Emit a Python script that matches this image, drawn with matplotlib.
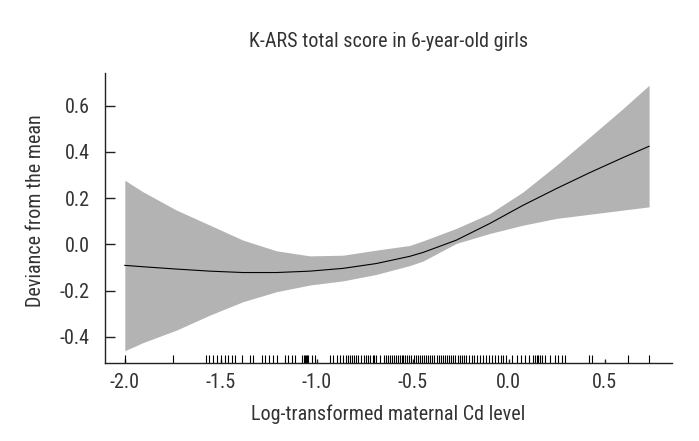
import matplotlib
matplotlib.use("Agg")
import matplotlib.pyplot as plt

plt.rcParams['font.family'] = ['Roboto Condensed', 'Liberation Sans Narrow', 'Roboto', 'DejaVu Sans']

# curva suavizada y banda de confianza
x_grid = [-2.0, -1.905, -1.731, -1.557, -1.384, -1.21, -1.036, -0.863, -0.689,
          -0.516, -0.446, -0.273, -0.099, 0.075, 0.248, 0.422, 0.595, 0.731]
ajuste = [-0.091, -0.097, -0.107, -0.116, -0.122, -0.122, -0.116, -0.104, -0.083,
          -0.052, -0.035, 0.018, 0.090, 0.169, 0.241, 0.310, 0.375, 0.424]
banda_sup = [0.277, 0.227, 0.148, 0.083, 0.018, -0.028, -0.050, -0.047, -0.025,
             -0.005, 0.015, 0.069, 0.133, 0.227, 0.342, 0.464, 0.587, 0.688]
banda_inf = [-0.460, -0.425, -0.371, -0.306, -0.248, -0.205, -0.176, -0.158, -0.130,
             -0.092, -0.072, 0.004, 0.047, 0.083, 0.112, 0.130, 0.148, 0.162]

# valores observados (rug)
rug = [-2.000, -1.750, -1.578, -1.563, -1.542, -1.521, -1.500, -1.479, -1.464, -1.443,
       -1.427, -1.391, -1.349, -1.333, -1.286, -1.271, -1.250, -1.229, -1.208, -1.167,
       -1.151, -1.130, -1.115, -1.078, -1.068, -1.063, -1.057, -1.052, -1.047, -1.026,
       -1.010, -0.932, -0.917, -0.896, -0.880, -0.865, -0.849, -0.839, -0.828, -0.818,
       -0.807, -0.797, -0.786, -0.771, -0.755, -0.745, -0.734, -0.724, -0.708, -0.703,
       -0.693, -0.672, -0.651, -0.641, -0.630, -0.620, -0.609, -0.599, -0.589, -0.578,
       -0.568, -0.557, -0.552, -0.542, -0.531, -0.521, -0.510, -0.495, -0.484,
       -0.474, -0.464, -0.453, -0.443, -0.432, -0.422, -0.411, -0.401, -0.391, -0.375,
       -0.365, -0.354, -0.344, -0.333, -0.323, -0.313, -0.302, -0.292, -0.281, -0.266,
       -0.255, -0.245, -0.234, -0.224, -0.208, -0.193, -0.182, -0.167, -0.151, -0.135,
       -0.120, -0.104, -0.089, -0.073, -0.057, -0.042, -0.031, -0.016, 0.016,
       0.042, 0.063, 0.083, 0.104, 0.125, 0.135, 0.146, 0.151, 0.161, 0.172,
       0.188, 0.214, 0.240, 0.255, 0.276, 0.292, 0.417, 0.432, 0.620, 0.729]

xticks = [-2.0, -1.5, -1.0, -0.5, 0.0, 0.5]
yticks = [-0.4, -0.2, 0.0, 0.2, 0.4, 0.6]

texto = '#333333'
tam = 14.5

fig = plt.figure(figsize=(6.99, 4.41), dpi=100)
ax = fig.add_axes([0.150, 0.177, 0.811, 0.657])

ax.fill_between(x_grid, banda_inf, banda_sup, color='#b3b3b3', linewidth=0)
ax.plot(x_grid, ajuste, color='black', linewidth=0.8)

# rug en la base del eje
ax.vlines(rug, 0, 0.027, transform=ax.get_xaxis_transform(),
          color='black', linewidth=0.8)

ax.set_xlim(-2.104, 0.849)
ax.set_ylim(-0.513, 0.740)

ax.set_xticks(xticks)
ax.set_xticklabels(['%.1f' % v for v in xticks])
ax.set_yticks(yticks)
ax.set_yticklabels(['%.1f' % v for v in yticks])

for lado in ['top', 'right']:
    ax.spines[lado].set_visible(False)
for lado in ['left', 'bottom']:
    ax.spines[lado].set_color('#222222')
    ax.spines[lado].set_linewidth(1.0)

ax.tick_params(axis='y', direction='in', length=7, width=1.0, pad=11,
               labelsize=tam, labelcolor=texto, color='#222222')
ax.tick_params(axis='x', direction='in', length=3, width=1.0, pad=7,
               labelsize=tam, labelcolor=texto, color='#222222')

ax.set_title('K-ARS total score in 6-year-old girls', fontsize=tam,
             color=texto, pad=19)
ax.set_xlabel('Log-transformed maternal Cd level', fontsize=tam, color=texto)
ax.set_ylabel('Deviance from the mean', fontsize=tam, color=texto)
ax.xaxis.set_label_coords(0.5, -0.145)
ax.yaxis.set_label_coords(-0.106, 0.527)

fig.savefig('out.png', dpi=100)
